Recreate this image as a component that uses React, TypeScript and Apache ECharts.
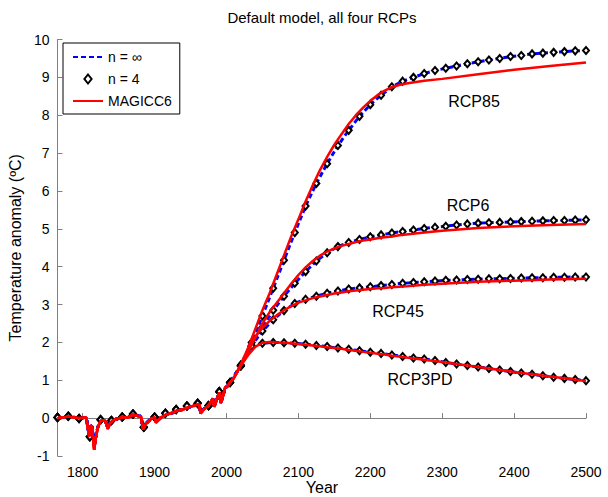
import React, { useEffect, useRef } from "react";
import * as echarts from "echarts";

const FONT = "'Liberation Sans', Arial, Helvetica, sans-serif";

// x-axis tick labels
const xTicks = [1800, 1900, 2000, 2100, 2200, 2300, 2400, 2500];

// Historical period (shared by all RCPs) – fine-resolution years for the lines
const histYears = [1765, 1780, 1795, 1805, 1809, 1811, 1813, 1816, 1818, 1821, 1825, 1831, 1835, 1838, 1842, 1850, 1856, 1862, 1870, 1878, 1881, 1884, 1888, 1895, 1900, 1902, 1905, 1910, 1916, 1925, 1931, 1940, 1946, 1955, 1962, 1964, 1968, 1975, 1981, 1983, 1986, 1990, 1992, 1994, 1998, 2002, 2005];
const redHist = [0.00, 0.04, 0.00, 0.02, -0.48, -0.20, -0.22, -0.84, -0.55, -0.25, -0.07, -0.06, -0.28, -0.14, -0.06, -0.01, 0.03, 0.01, 0.09, 0.05, 0.05, -0.30, -0.15, -0.02, 0.02, -0.12, -0.06, 0.03, 0.09, 0.14, 0.20, 0.23, 0.28, 0.33, 0.37, 0.12, 0.22, 0.33, 0.52, 0.30, 0.45, 0.68, 0.40, 0.50, 0.80, 0.86, 0.94];
const blueHist = [0.00, 0.04, 0.00, 0.02, -0.45, -0.20, -0.22, -0.76, -0.52, -0.24, -0.06, -0.05, -0.25, -0.13, -0.05, -0.01, 0.03, 0.02, 0.09, 0.06, 0.05, -0.27, -0.14, -0.02, 0.02, -0.10, -0.05, 0.04, 0.09, 0.14, 0.20, 0.23, 0.28, 0.33, 0.37, 0.14, 0.23, 0.33, 0.51, 0.32, 0.46, 0.67, 0.42, 0.51, 0.79, 0.86, 0.94];

// n = 4 markers in the historical period (every 15 years)
const markerHistYears = [1765, 1780, 1795, 1810, 1825, 1840, 1855, 1870, 1885, 1900, 1915, 1930, 1945, 1960, 1975, 1990, 2005];
const markerHist = [0.02, 0.05, -0.01, -0.49, -0.04, -0.06, 0.03, 0.11, -0.24, 0.03, 0.13, 0.23, 0.32, 0.39, 0.33, 0.70, 0.94];

// Future years for the default model (n = ∞ line, n = 4 markers)
const modelYears = [2020, 2035, 2050, 2065, 2080, 2095, 2110, 2125, 2140, 2155, 2170, 2185, 2200, 2215, 2230, 2245, 2260, 2275, 2290, 2305, 2320, 2335, 2350, 2365, 2380, 2395, 2410, 2425, 2440, 2455, 2470, 2485, 2500];
const model85 = [1.40, 2.00, 2.70, 3.43, 4.17, 4.90, 5.60, 6.20, 6.72, 7.20, 7.60, 7.97, 8.28, 8.53, 8.75, 8.90, 9.00, 9.10, 9.18, 9.24, 9.30, 9.36, 9.41, 9.46, 9.50, 9.55, 9.58, 9.62, 9.64, 9.66, 9.68, 9.70, 9.71];
const model6 = [1.38, 1.90, 2.40, 2.85, 3.22, 3.56, 3.87, 4.15, 4.37, 4.53, 4.64, 4.72, 4.79, 4.84, 4.89, 4.93, 4.97, 5.01, 5.04, 5.07, 5.10, 5.13, 5.15, 5.16, 5.17, 5.18, 5.19, 5.20, 5.21, 5.22, 5.22, 5.23, 5.24];
const model45 = [1.38, 1.92, 2.30, 2.60, 2.84, 3.03, 3.14, 3.22, 3.30, 3.36, 3.41, 3.44, 3.47, 3.50, 3.53, 3.56, 3.58, 3.60, 3.62, 3.64, 3.65, 3.66, 3.67, 3.68, 3.68, 3.69, 3.70, 3.71, 3.71, 3.72, 3.72, 3.73, 3.73];
const model3PD = [1.40, 1.90, 1.98, 2.00, 1.99, 1.98, 1.95, 1.92, 1.89, 1.85, 1.82, 1.78, 1.74, 1.71, 1.67, 1.63, 1.59, 1.56, 1.52, 1.47, 1.43, 1.39, 1.35, 1.31, 1.27, 1.23, 1.19, 1.16, 1.12, 1.08, 1.05, 1.02, 0.99];

// Future years for MAGICC6
const magiccYears = [2010, 2020, 2030, 2040, 2050, 2060, 2070, 2080, 2090, 2100, 2110, 2120, 2130, 2140, 2150, 2160, 2170, 2180, 2190, 2200, 2210, 2220, 2230, 2240, 2250, 2275, 2300, 2350, 2400, 2450, 2500];
const magicc85 = [1.05, 1.42, 1.85, 2.35, 2.85, 3.30, 3.80, 4.30, 4.80, 5.25, 5.72, 6.15, 6.55, 6.90, 7.22, 7.50, 7.77, 8.00, 8.20, 8.38, 8.53, 8.65, 8.74, 8.80, 8.84, 8.91, 8.96, 9.08, 9.20, 9.30, 9.39];
const magicc6 = [1.05, 1.40, 1.75, 2.12, 2.50, 2.80, 3.05, 3.30, 3.55, 3.78, 3.98, 4.15, 4.29, 4.40, 4.48, 4.55, 4.60, 4.65, 4.69, 4.72, 4.75, 4.78, 4.80, 4.83, 4.85, 4.90, 4.95, 5.02, 5.07, 5.10, 5.13];
const magicc45 = [1.05, 1.40, 1.78, 2.15, 2.38, 2.57, 2.72, 2.85, 2.96, 3.05, 3.11, 3.17, 3.21, 3.25, 3.29, 3.32, 3.35, 3.37, 3.39, 3.41, 3.43, 3.44, 3.46, 3.47, 3.48, 3.52, 3.55, 3.60, 3.63, 3.66, 3.68];
const magicc3PD = [1.05, 1.38, 1.66, 1.88, 1.99, 2.01, 2.00, 1.99, 1.98, 1.96, 1.94, 1.92, 1.90, 1.87, 1.85, 1.83, 1.80, 1.78, 1.75, 1.73, 1.70, 1.68, 1.65, 1.63, 1.60, 1.54, 1.48, 1.35, 1.22, 1.10, 0.98];

const scenarioLabels = ["RCP85", "RCP6", "RCP45", "RCP3PD"];

const zip = (xs: number[], ys: number[]) => xs.map((x, i) => [x, ys[i]]);

export default function App() {
  const ref = useRef<HTMLDivElement>(null);

  useEffect(() => {
    if (!ref.current) return;
    const chart = echarts.init(ref.current, undefined, { renderer: "svg" });

    const models = [model85, model6, model45, model3PD];
    const magiccs = [magicc85, magicc6, magicc45, magicc3PD];

    const blueSeries = models.map((m) => ({
      name: "n = \u221e",
      type: "line",
      data: [...zip(histYears, blueHist), ...zip(modelYears, m)],
      symbol: "none",
      z: 2,
      lineStyle: { color: "#0000ff", width: 3, type: [5, 3] },
      itemStyle: { color: "#0000ff" },
    }));

    const markerSeries = models.map((m) => ({
      name: "n = 4",
      type: "scatter",
      data: [...zip(markerHistYears, markerHist), ...zip(modelYears, m)],
      symbol: "diamond",
      symbolSize: [6, 7],
      z: 3,
      itemStyle: { color: "#ffffff", borderColor: "#000000", borderWidth: 2, opacity: 1 },
    }));

    const redSeries = magiccs.map((m) => ({
      name: "MAGICC6",
      type: "line",
      data: [...zip(histYears, redHist), ...zip(magiccYears, m)],
      symbol: "none",
      z: 4,
      lineStyle: { color: "#ff0000", width: 2.5 },
      itemStyle: { color: "#ff0000" },
    }));

    const labelPos = [
      [474, 101],
      [468, 205],
      [398, 311],
      [420, 379],
    ];

    const hiddenSymbol = { color: "rgba(0,0,0,0)", borderWidth: 0, opacity: 0 };

    const option: any = {
      animation: false,
      backgroundColor: "#ffffff",
      textStyle: { fontFamily: FONT },
      grid: {
        left: 57.5,
        right: 22,
        top: 39.5,
        bottom: 41,
        containLabel: false,
        outerBoundsMode: "none",
      },
      legend: {
        data: [
          { name: "n = \u221e", itemStyle: hiddenSymbol },
          { name: "n = 4", icon: "path://M4,0L8,5L4,10L0,5Z" },
          { name: "MAGICC6", itemStyle: hiddenSymbol },
        ],
        orient: "vertical",
        left: 63,
        top: 43,
        itemWidth: 30,
        itemHeight: 9,
        itemGap: 6,
        padding: [6, 8, 5, 9],
        borderColor: "#000000",
        borderWidth: 1,
        backgroundColor: "#ffffff",
        textStyle: { fontSize: 14, color: "#000", fontFamily: FONT, lineHeight: 16 },
        z: 10,
      },
      xAxis: {
        type: "value",
        min: 1765,
        max: 2500,
        axisLine: { show: true, lineStyle: { color: "#808080", width: 1 } },
        axisTick: { show: true, inside: true, length: 5, customValues: xTicks, lineStyle: { color: "#808080" } },
        axisLabel: {
          customValues: xTicks,
          color: "#000",
          fontSize: 14,
          margin: 9,
          fontFamily: FONT,
          formatter: (v: number) => String(v),
        },
        splitLine: { show: false },
      },
      yAxis: {
        type: "value",
        min: -1,
        max: 10,
        interval: 1,
        name: "Temperature anomaly (\u00baC)",
        nameLocation: "middle",
        nameGap: 31,
        nameTextStyle: { fontSize: 16, color: "#000", fontFamily: FONT },
        axisLine: { show: true, lineStyle: { color: "#808080", width: 1 } },
        axisTick: { show: true, inside: true, length: 5, lineStyle: { color: "#808080" } },
        axisLabel: { color: "#000", fontSize: 14, margin: 8, fontFamily: FONT },
        splitLine: { show: false },
      },
      graphic: [
        {
          type: "text",
          x: 322,
          y: 17,
          style: {
            text: "Default model, all four RCPs",
            fontSize: 15,
            fontFamily: FONT,
            fill: "#000",
            align: "center",
            verticalAlign: "middle",
          },
        },
        {
          type: "text",
          x: 322,
          y: 487,
          style: {
            text: "Year",
            fontSize: 16,
            fontFamily: FONT,
            fill: "#000",
            align: "center",
            verticalAlign: "middle",
          },
        },
        ...scenarioLabels.map((t, i) => ({
          type: "text",
          x: labelPos[i][0],
          y: labelPos[i][1],
          z: 20,
          style: {
            text: t,
            fontSize: 16,
            fontFamily: FONT,
            fill: "#000",
            align: "center",
            verticalAlign: "middle",
          },
        })),
      ],
      series: [...blueSeries, ...markerSeries, ...redSeries],
    };

    chart.setOption(option);
    return () => chart.dispose();
  }, []);

  return (
    <div
      ref={ref}
      style={{ position: "fixed", left: 0, top: 0, width: 608, height: 497, background: "#fff" }}
    />
  );
}
